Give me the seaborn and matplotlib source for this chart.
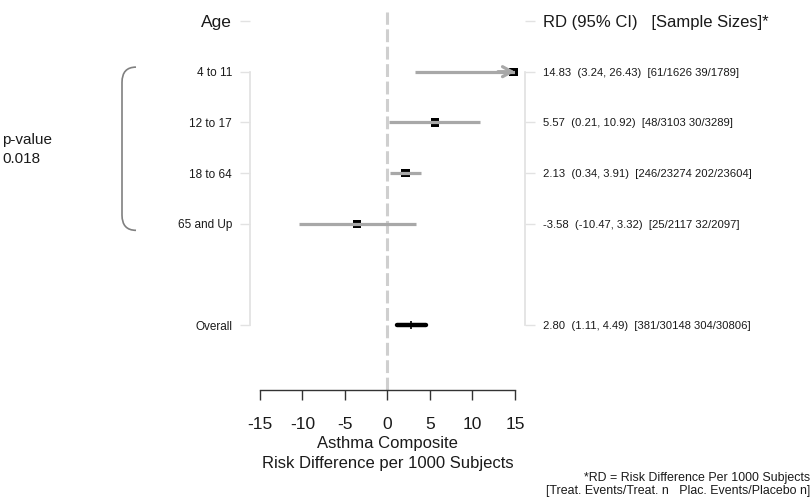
import numpy as np
import pandas as pd
import matplotlib
matplotlib.use("Agg")
import matplotlib.pyplot as plt
import matplotlib.transforms as mtransforms
from matplotlib.path import Path
from matplotlib.patches import PathPatch
import seaborn as sns

# ---- data -------------------------------------------------------------
subgroups = ["4 to 11", "12 to 17", "18 to 64", "65 and Up"]
rd = [14.83, 5.57, 2.13, -3.58]
ci_low = [3.24, 0.21, 0.34, -10.47]
ci_high = [26.43, 10.92, 3.91, 3.32]
sample_sizes = ["[61/1626 39/1789]", "[48/3103 30/3289]",
                "[246/23274 202/23604]", "[25/2117 32/2097]"]

overall_label = "Overall"
overall_rd = 2.80
overall_low = 1.11
overall_high = 4.49
overall_sizes = "[381/30148 304/30806]"

p_value = "0.018"
x_ticks = [-15, -10, -5, 0, 5, 10, 15]

# ---- style ------------------------------------------------------------
sns.set_theme(style="white")
plt.rcParams["font.family"] = ["Liberation Sans", "DejaVu Sans"]

GRAY = "#a8a8a8"
AXIS_LIGHT = "#e2e2e2"
TEXT = "#1a1a1a"
X_MIN, X_MAX = x_ticks[0], x_ticks[-1]
PX = 72 / 100  # points per pixel at 100 dpi

W, H = 812, 498
fig = plt.figure(figsize=(W / 100, H / 100), dpi=100)
ax = fig.add_axes([260 / W, (H - 390) / H, 255 / W, 390 / H])

rows = list(range(1, len(subgroups) + 1))
overall_row = len(subgroups) + 2
ax.set_xlim(X_MIN, X_MAX)
ax.set_ylim(7.28, -0.414)

# ---- marks ------------------------------------------------------------
# point estimates (squares), drawn under the CI lines
pts = pd.DataFrame({"rd": rd, "row": rows})
sns.scatterplot(data=pts, x="rd", y="row", marker="s", s=36, color="black",
                edgecolor="none", ax=ax, zorder=2, legend=False, clip_on=False)

# confidence intervals, truncated at the axis limit
ci_plot_high = list(np.minimum(ci_high, X_MAX))
ci_plot_low = list(np.maximum(ci_low, X_MIN))
seg = pd.DataFrame({"value": ci_plot_low + ci_plot_high,
                    "row": rows * 2,
                    "label": subgroups * 2})
sns.lineplot(data=seg, x="value", y="row", units="label", estimator=None,
             color=GRAY, lw=2.3, ax=ax, zorder=3, legend=False,
             solid_capstyle="butt")
for r, hi in zip(rows, ci_high):
    if hi > X_MAX:
        ax.annotate("", xy=(X_MAX, r), xytext=(X_MAX - 2, r),
                    arrowprops=dict(arrowstyle="->,head_length=0.55,head_width=0.3",
                                    color=GRAY, lw=2.3, shrinkA=0, shrinkB=0),
                    zorder=3, annotation_clip=False)

# overall estimate
ov = pd.DataFrame({"value": [overall_low, overall_high],
                   "row": [overall_row] * 2})
sns.lineplot(data=ov, x="value", y="row", color="black", lw=3.2, ax=ax,
             zorder=3, legend=False, estimator=None)
sns.scatterplot(x=[overall_rd], y=[overall_row], marker="|", s=30,
                color="black", linewidth=1.2, ax=ax, zorder=4, legend=False)

# null line
ax.axvline(0, ymin=0, ymax=1 - 12 / 390, color="#cfcfcf", lw=2.2,
           ls=(0, (4.2, 1.5)), zorder=1)

# ---- axes -------------------------------------------------------------
for side in ["top", "right", "left"]:
    ax.spines[side].set_visible(False)
ax.spines["bottom"].set_bounds(X_MIN, X_MAX)
ax.spines["bottom"].set_color("#333333")
ax.spines["bottom"].set_linewidth(1.0)
ax.set_xticks(x_ticks)
ax.set_xticklabels([str(t) for t in x_ticks])
ax.tick_params(axis="x", direction="out", length=7, width=1.0,
               color="#333333", labelsize=12.5, labelcolor=TEXT, pad=12.5,
               bottom=True)
ax.set_xlabel("Asthma Composite\nRisk Difference per 1000 Subjects",
              fontsize=12, color=TEXT, linespacing=1.45, labelpad=2.5)
ax.set_ylabel("")

# left label axis
y_ticks = [0] + rows + [overall_row]
ax.spines["left"].set_visible(True)
ax.spines["left"].set_position(("outward", 10 * PX))
ax.spines["left"].set_bounds(1, overall_row)
ax.spines["left"].set_color(AXIS_LIGHT)
ax.set_yticks(y_ticks)
ax.set_yticklabels(["Age"] + subgroups + [overall_label])
ax.tick_params(axis="y", direction="out", length=7, width=1.0,
               color=AXIS_LIGHT, labelsize=8.5, labelcolor=TEXT, pad=5.8,
               left=True)
ax.get_yticklabels()[0].set_fontsize(12.5)

# right label axis with estimates
ax2 = ax.twinx()
ax2.set_ylim(ax.get_ylim())
for side in ["top", "left", "bottom"]:
    ax2.spines[side].set_visible(False)
ax2.spines["right"].set_position(("outward", 10 * PX))
ax2.spines["right"].set_bounds(1, overall_row)
ax2.spines["right"].set_color(AXIS_LIGHT)
right_labels = ["RD (95% CI)   [Sample Sizes]*"]
for v, lo, hi, n in zip(rd, ci_low, ci_high, sample_sizes):
    right_labels.append(f"{v:.2f}  ({lo:.2f}, {hi:.2f})  {n}")
right_labels.append(f"{overall_rd:.2f}  ({overall_low:.2f}, {overall_high:.2f})  {overall_sizes}")
ax2.set_yticks(y_ticks)
ax2.set_yticklabels(right_labels)
ax2.set_ylabel("")
ax2.tick_params(axis="y", direction="out", length=7, width=1.0,
                color=AXIS_LIGHT, labelsize=8.1, labelcolor=TEXT, pad=5.8,
                right=True)
ax2.get_yticklabels()[0].set_fontsize(12)

# bracket grouping the subgroup rows, with interaction p-value
tr = mtransforms.blended_transform_factory(fig.transFigure, ax.transData)
xa, xb = 122 / W, 136 / W
y0, y1, c = rows[0] - 0.09, rows[-1] + 0.13, 0.3
verts = [(xb, y0), (xa, y0), (xa, y0 + c),
         (xa, y1 - c),
         (xa, y1), (xb, y1)]
codes = [Path.MOVETO, Path.CURVE3, Path.CURVE3, Path.LINETO,
         Path.CURVE3, Path.CURVE3]
ax.add_patch(PathPatch(Path(verts, codes), transform=tr, fill=False,
                       edgecolor="#808080", lw=1.2, clip_on=False))
ax.text(2 / W, (rows[0] + rows[-1]) / 2 + 0.03, f"p-value\n{p_value}",
        transform=tr, ha="left", va="center", fontsize=11, color=TEXT,
        linespacing=1.45)

# footnote
fig.text(1 - 2 / W, 1.5 / H,
         "*RD = Risk Difference Per 1000 Subjects\n"
         "[Treat. Events/Treat. n   Plac. Events/Placebo n]",
         ha="right", va="bottom", fontsize=8.9, color=TEXT,
         multialignment="right", linespacing=1.1)

fig.savefig("out.png", dpi=100)
